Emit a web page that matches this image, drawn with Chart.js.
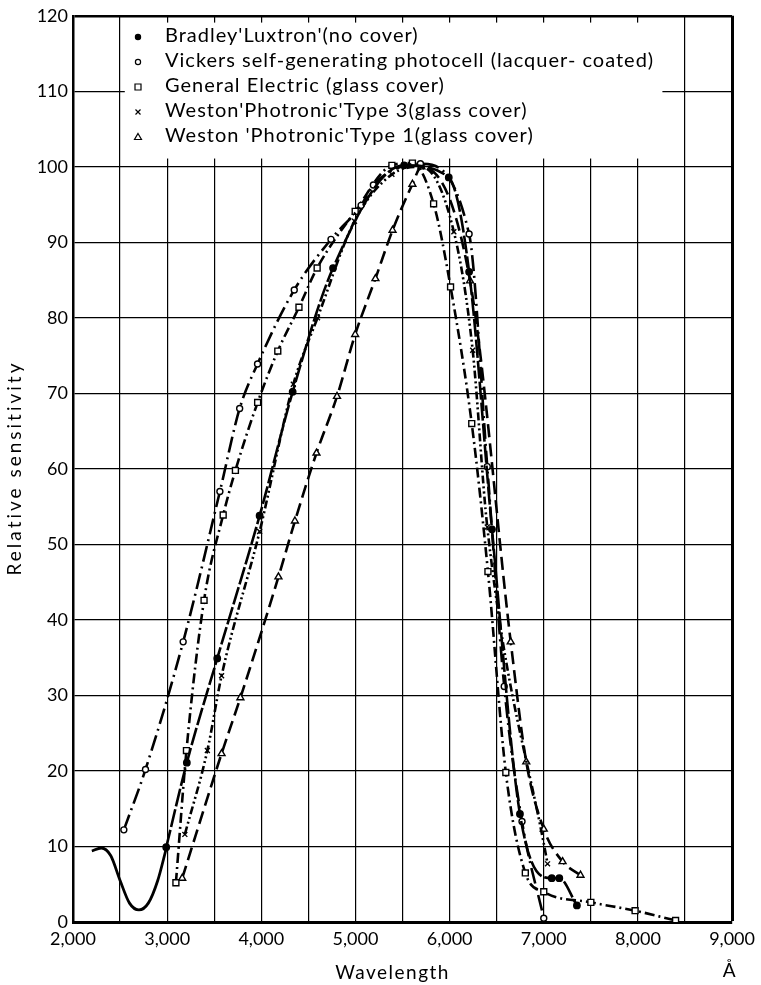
<!DOCTYPE html>
<html>
<head>
<meta charset="utf-8">
<title>Relative sensitivity of photocells</title>
<script src="https://cdn.jsdelivr.net/npm/chart.js@4.4.1/dist/chart.umd.min.js"></script>
<style>
  html, body { margin: 0; padding: 0; background: #fff; }
  #wrap { position: relative; width: 761px; height: 985px; }
</style>
</head>
<body>
<div id="wrap"><canvas id="sensChart"></canvas></div>
<script>
// values (wavelength in angstrom, sensitivity in %)
const uvX = [2200, 2300, 2400, 2500, 2600, 2700, 2800, 2900, 2990];
const uvY = [9.4, 9.8, 8.8, 5.5, 2.5, 1.6, 2.5, 5.5, 9.7];

const bradleyX = [2990, 3209, 3532, 3982, 4333, 4762, 5517, 5991, 6207, 6450, 6747, 7085, 7165, 7352];
const bradleyY = [9.9, 21.1, 34.9, 53.8, 70.2, 86.6, 100.2, 98.6, 86.1, 52, 14.3, 5.8, 5.8, 2.2];

const vickersX = [2540, 2770, 3170, 3560, 3770, 3960, 4350, 4740, 5060, 5190, 5690, 6207, 6400, 6580, 6769, 7000];
const vickersY = [12.2, 20.2, 37.1, 57, 68, 73.9, 83.7, 90.4, 94.9, 97.6, 100.4, 91.1, 60.3, 31.2, 13.3, 0.5];

const geX = [3093, 3205, 3392, 3595, 3725, 3961, 4175, 4400, 4593, 4997, 5387, 5605, 5830, 6010, 6235, 6407, 6597, 6804, 7000, 7500, 7970, 8400];
const geY = [5.2, 22.7, 42.6, 53.9, 59.8, 68.8, 75.6, 81.4, 86.6, 94.1, 100.2, 100.5, 95.1, 84.1, 66, 46.4, 19.8, 6.5, 4, 2.6, 1.5, 0.2];

const weston3X = [3188, 3427, 3578, 3982, 4340, 4597, 4990, 5387, 5700, 6045, 6245, 6400, 7040];
const weston3Y = [11.6, 22.7, 32.6, 51.7, 71.2, 80, 92.8, 99, 100, 91.4, 75.7, 52.3, 7.7];

const weston1X = [3160, 3578, 3778, 4182, 4357, 4586, 4804, 4997, 5212, 5394, 5605, 5700, 6217, 6649, 6814, 7000, 7200, 7390];
const weston1Y = [5.8, 22.3, 29.7, 45.7, 53.1, 62.1, 69.6, 77.8, 85.2, 91.6, 97.7, 100, 84.9, 37.1, 21.2, 12.3, 8.0, 6.2];

const seriesNames = [
  "Bradley'Luxtron'(no cover)",
  "Vickers self-generating photocell (lacquer- coated)",
  "General Electric (glass cover)",
  "Weston'Photronic'Type 3(glass cover)",
  "Weston 'Photronic'Type 1(glass cover)"
];

const xGridValues = [2000, 2500, 3000, 3500, 4000, 4500, 5000, 5500, 6000, 6500, 7000, 7500, 8000, 8500, 9000];
const xTickLabels = ['2,000', '3,000', '4,000', '5,000', '6,000', '7,000', '8,000', '9,000'];
const yGridValues = [0, 10, 20, 30, 40, 50, 60, 70, 80, 90, 100, 110, 120];

const FONT = 'Lato, "Open Sans", sans-serif';

function pts(xs, ys) {
  return xs.map((x, i) => ({ x: x, y: ys[i] }));
}

// marker look for each series, shared by datasets and the key
const markers = [
  { style: 'circle', radius: 3.2, fill: '#000' },
  { style: 'circle', radius: 3, fill: '#fff' },
  { style: 'rect', radius: 4.2, fill: '#fff' },
  { style: 'crossRot', radius: 3.5, fill: '#fff' },
  { style: 'triangle', radius: 4, fill: '#fff' }
];
const dashes = [
  [18, 3],
  [16, 5, 2, 5],
  [10, 4, 2, 4],
  [8, 3, 2, 3, 2, 3],
  [13, 6]
];
const seriesX = [bradleyX, vickersX, geX, weston3X, weston1X];
const seriesY = [bradleyY, vickersY, geY, weston3Y, weston1Y];

const datasets = seriesNames.map((name, i) => ({
  label: name,
  data: pts(seriesX[i], seriesY[i]),
  borderColor: '#000',
  borderWidth: 2.6,
  borderDash: dashes[i],
  cubicInterpolationMode: 'monotone',
  pointStyle: markers[i].style,
  pointRadius: markers[i].radius,
  pointBackgroundColor: markers[i].fill,
  pointBorderColor: '#000',
  pointBorderWidth: 1.4,
  fill: false
}));

// solid ultraviolet part of the Bradley curve, no markers
datasets.push({
  label: 'Bradley UV',
  data: pts(uvX, uvY),
  borderColor: '#000',
  borderWidth: 2.8,
  cubicInterpolationMode: 'monotone',
  pointRadius: 0,
  fill: false
});

const paperPlugin = {
  id: 'paper',
  beforeDatasetsDraw(chart) {
    const ctx = chart.ctx;
    const xs = chart.scales.x, ys = chart.scales.y;
    // blank area behind the key
    const l = xs.getPixelForValue(2550), r = xs.getPixelForValue(8260);
    const t = ys.getPixelForValue(119.1), b = ys.getPixelForValue(101.1);
    ctx.save();
    ctx.fillStyle = '#fff';
    ctx.fillRect(l, t, r - l, b - t);
    ctx.restore();
  },
  afterDraw(chart) {
    const ctx = chart.ctx;
    const area = chart.chartArea;
    ctx.save();
    ctx.fillStyle = '#000';
    ctx.strokeStyle = '#000';

    // key
    ctx.font = '20px ' + FONT;
    ctx.letterSpacing = '1px';
    ctx.textBaseline = 'alphabetic';
    ctx.textAlign = 'left';
    seriesNames.forEach((name, i) => {
      const my = 37 + i * 25;
      const m = markers[i];
      ctx.lineWidth = 1.2;
      ctx.fillStyle = m.fill;
      ctx.beginPath();
      if (m.style === 'circle') {
        ctx.arc(138, my, 2.6, 0, Math.PI * 2);
        ctx.fill(); ctx.stroke();
      } else if (m.style === 'rect') {
        ctx.rect(135, my - 3, 6, 6);
        ctx.fill(); ctx.stroke();
      } else if (m.style === 'crossRot') {
        ctx.moveTo(135.5, my - 2.5); ctx.lineTo(140.5, my + 2.5);
        ctx.moveTo(140.5, my - 2.5); ctx.lineTo(135.5, my + 2.5);
        ctx.stroke();
      } else {
        ctx.moveTo(138, my - 3.5); ctx.lineTo(141.5, my + 2.5); ctx.lineTo(134.5, my + 2.5);
        ctx.closePath();
        ctx.fill(); ctx.stroke();
      }
      ctx.fillStyle = '#000';
      ctx.fillText(name, 165, my + 5);
    });

    // axis titles
    ctx.font = '19px ' + FONT;
    ctx.letterSpacing = '1.5px';
    ctx.textAlign = 'center';
    ctx.textBaseline = 'middle';
    ctx.fillText('Wavelength', (area.left + area.right) / 2 - 10, 973);
    ctx.fillText('Å', 730, 971);
    ctx.translate(15, 468);
    ctx.rotate(-Math.PI / 2);
    ctx.letterSpacing = '3px';
    ctx.fillText('Relative sensitivity', 0, 0);
    ctx.restore();
  }
};

new Chart(document.getElementById('sensChart').getContext('2d'), {
  type: 'line',
  data: { datasets: datasets },
  options: {
    responsive: true,
    maintainAspectRatio: false,
    animation: false,
    layout: { padding: { top: 13, right: 24, left: 0, bottom: 0 } },
    plugins: {
      legend: { display: false },
      tooltip: { enabled: false }
    },
    scales: {
      x: {
        type: 'linear',
        min: 2000,
        max: 9000,
        afterBuildTicks(scale) {
          scale.ticks = xGridValues.map(v => ({ value: v }));
        },
        afterFit(scale) { scale.height = 63; },
        ticks: {
          autoSkip: false,
          maxRotation: 0,
          color: '#000',
          padding: 6,
          font: { family: FONT, size: 18 },
          callback: v => (v % 1000 === 0 ? xTickLabels[(v - 2000) / 1000] : '')
        },
        grid: {
          color: '#000',
          drawTicks: false,
          lineWidth: c => (c.tick && c.tick.value === 9000 ? 3 : 1.2)
        },
        border: { color: '#000', width: 3 }
      },
      y: {
        type: 'linear',
        min: 0,
        max: 120,
        afterBuildTicks(scale) {
          scale.ticks = yGridValues.map(v => ({ value: v }));
        },
        afterFit(scale) { scale.width = 73; },
        ticks: {
          color: '#000',
          padding: 5,
          font: { family: FONT, size: 18 }
        },
        grid: {
          color: '#000',
          drawTicks: false,
          lineWidth: c => (c.tick && c.tick.value === 120 ? 2.5 : 1.2)
        },
        border: { color: '#000', width: 2.5 }
      }
    }
  },
  plugins: [paperPlugin]
});
</script>
</body>
</html>
